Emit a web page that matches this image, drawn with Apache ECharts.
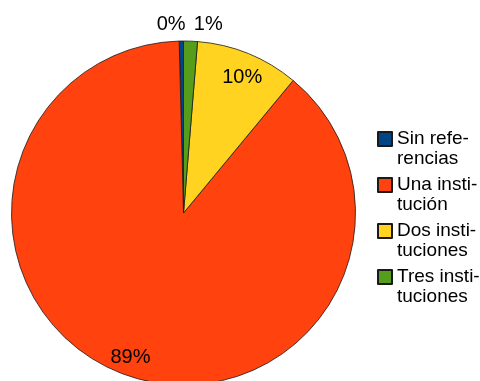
<!DOCTYPE html>
<html>
<head>
<meta charset="utf-8">
<script src="https://cdn.jsdelivr.net/npm/echarts@6/dist/echarts.min.js"></script>
<style>
html,body{margin:0;padding:0;background:#fff;}
#chart{width:480px;height:381px;}
</style>
</head>
<body>
<div id="chart"></div>
<script>
// Data
var categories = ['Sin referencias', 'Una institución', 'Dos instituciones', 'Tres instituciones'];
var values = [0.4, 88.6, 9.7, 1.3];
var legendLabels = ['Sin refe-\nrencias', 'Una insti-\ntución', 'Dos insti-\ntuciones', 'Tres insti-\ntuciones'];
var colors = ['#004586', '#ff420e', '#ffd320', '#579d1c'];

var FONT = '"Liberation Sans", Arial, sans-serif';
var center = [183.5, 213];

function pctLabel(p) { return Math.round(p.percent) + '%'; }

var mainData = categories.map(function (c, i) {
  return { name: c, value: values[i], itemStyle: { color: colors[i] } };
});
var innerOffsets = { 'Una institución': [-3, 0], 'Dos instituciones': [1, 6] };
var outerOffsets = { 'Sin referencias': [-10, 0], 'Tres instituciones': [17, 0] };

var innerData = categories.map(function (c, i) {
  return { name: c, value: values[i], label: { show: !!innerOffsets[c], offset: innerOffsets[c] || [0, 0] } };
});
var outerData = categories.map(function (c, i) {
  return { name: c, value: values[i], label: { show: !!outerOffsets[c], offset: outerOffsets[c] || [0, 0] } };
});

var overlayCommon = {
  type: 'pie',
  center: center,
  startAngle: 90,
  clockwise: false,
  silent: true,
  animation: false,
  itemStyle: { color: 'transparent', borderWidth: 0 },
  emphasis: { disabled: true },
  labelLine: { show: false },
  label: {
    position: 'inside',
    formatter: pctLabel,
    color: '#000',
    fontSize: 20,
    fontFamily: FONT
  }
};

var option = {
  backgroundColor: '#fff',
  animation: false,
  legend: {
    orient: 'vertical',
    left: 377,
    top: 109,
    padding: 0,
    itemWidth: 14,
    itemHeight: 14,
    itemGap: -14,
    icon: 'rect',
    selectedMode: false,
    data: categories,
    formatter: function (name) { return '\n' + legendLabels[categories.indexOf(name)]; },
    textStyle: {
      fontSize: 19,
      fontFamily: FONT,
      color: '#000',
      lineHeight: 20
    }
  },
  series: [
    {
      type: 'pie',
      name: 'main',
      center: center,
      radius: 172,
      startAngle: 90,
      clockwise: false,
      animation: false,
      label: { show: false },
      labelLine: { show: false },
      itemStyle: { borderColor: '#1a1a1a', borderWidth: 0.8 },
      emphasis: { disabled: true },
      data: mainData
    },
    Object.assign({}, overlayCommon, { name: 'inner', radius: [128, 172], data: innerData }),
    Object.assign({}, overlayCommon, { name: 'outer', radius: [177, 195], data: outerData })
  ]
};

var chart = echarts.init(document.getElementById('chart'), null, { renderer: 'canvas' });
chart.setOption(option);
</script>
</body>
</html>
